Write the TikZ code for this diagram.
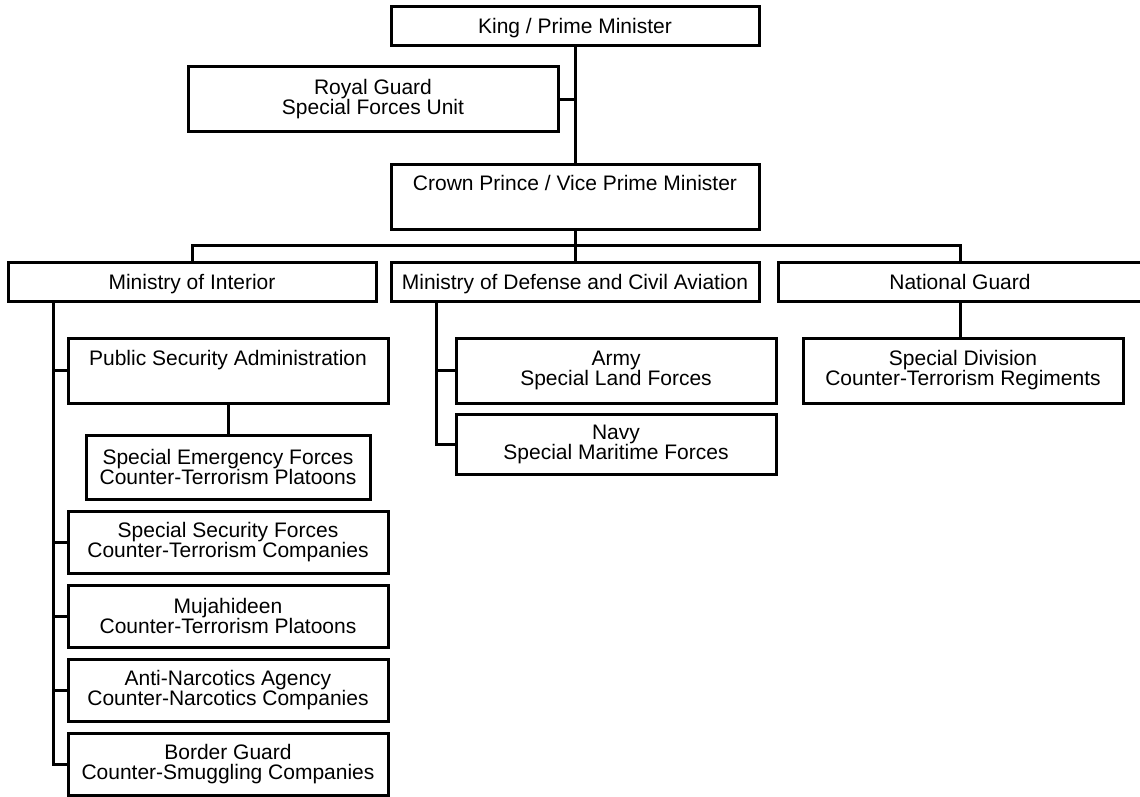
\documentclass[tikz,border=0pt]{standalone}
\usepackage{fontspec}
\setmainfont{Liberation Sans}
\usetikzlibrary{positioning, calc}

\begin{document}
\begin{tikzpicture}[x=0.5pt, y=-0.5pt,
    unit/.style={draw, line width=1.5pt, align=center, inner sep=0pt, outer sep=0pt,
        font=\fontsize{10.5}{10}\selectfont},
    head/.style={unit, minimum width=184pt, text height=13.5pt, text depth=6pt},
    sub/.style={unit, minimum width=160pt, minimum height=31pt},
    link/.style={line width=1.5pt}]
            \useasboundingbox (0,0) rectangle (1140,797);
            % \tikzstyle{every node}=[draw, align=center]
            \node[head] (king) at (575,26.5) {King / Prime Minister};
            \node[unit, minimum width=185pt, minimum height=32.5pt] (royal) at (373,99.5) {Royal Guard\\Special Forces Unit};
            \node[head, text height=13.25pt, text depth=19.25pt] (crown) [below=59pt of king] {Crown Prince / Vice Prime Minister};
            \node[head] (mod) [below=16.5pt of crown] {Ministry of Defense and Civil Aviation};
            \node[head] (moi) [left=7.5pt of mod] {Ministry of Interior};
            \node[head, minimum width=182pt] (ng) [right=9.5pt of mod] {National Guard};

            \node[sub, text height=13.75pt, text depth=18.75pt] (psa) [below right=18.5pt and 30pt of moi.south west] {Public Security Administration};
            \node[sub, minimum width=142pt, minimum height=32pt] (sef) [below=16pt of psa] {Special Emergency Forces\\Counter-Terrorism Platoons};
            \node[sub] (ssf) [below=6pt of sef] {Special Security Forces\\Counter-Terrorism Companies};
            \node[sub] (muj) [below=6pt of ssf] {Mujahideen\\Counter-Terrorism Platoons};
            \node[sub] (ana) [below=6pt of muj] {Anti-Narcotics Agency\\Counter-Narcotics Companies};
            \node[sub] (bg) [below=6pt of ana] {Border Guard\\Counter-Smuggling Companies};

            \node[sub, minimum height=32.5pt] (army) [below right=18.5pt and 32.5pt of mod.south west] {Army\\Special Land Forces};
            \node[sub, minimum height=30pt] (navy) [below=5.5pt of army] {Navy\\Special Maritime Forces};
            \node[sub, minimum height=32.5pt] (sd) [below right=18.5pt and 12.5pt of ng.south west] {Special Division\\Counter-Terrorism Regiments};

            \coordinate (bus) at ($(crown.south)!0.5!(mod.north)$);
            \coordinate (moiline) at ([xshift=22.5pt]moi.south west);
            \coordinate (modline) at ([xshift=22.5pt]mod.south west);

            \draw[link] (king) -- (crown);
            \draw[link] (royal.east) -- (royal.east -| king.south);
            \draw[link] (crown) -- (mod);
            \draw[link] (moi.north) |- (bus) -| (ng.north);
            \draw[link] (moiline) |- (bg.west);
            \foreach \n in {psa, ssf, muj, ana}
                \draw[link] (\n.west) -- (\n.west -| moiline);
            \draw[link] (psa) -- (sef);
            \draw[link] (modline) |- (navy.west);
            \draw[link] (army.west) -- (army.west -| modline);
            \draw[link] (ng.south) -- (ng.south |- sd.north);
        \end{tikzpicture}
\end{document}
